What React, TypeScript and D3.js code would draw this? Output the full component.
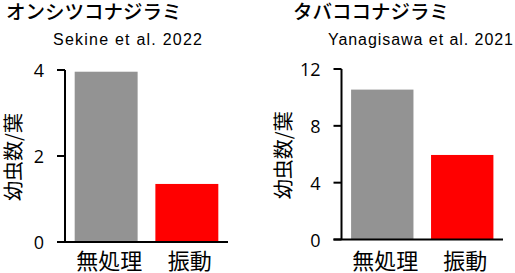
import React from "react";
import * as d3 from "d3";

const categories = ["無処理", "振動"];
const leftValues = [3.96, 1.35];
const rightValues = [10.55, 5.95];
const leftTicks = [0, 2, 4];
const rightTicks = [0, 4, 8, 12];
const barColors = ["#939393", "#ff0000"];
const leftTitle = "オンシツコナジラミ";
const leftSub = "Sekine et al. 2022";
const rightTitle = "タバココナジラミ";
const rightSub = "Yanagisawa et al. 2021";
const yLabel = "幼虫数/葉";

const JP = "'Noto Sans CJK JP', sans-serif";
const LAT = "'Liberation Sans', Arial, sans-serif";
const NUM = "'Open Sans', 'Liberation Sans', sans-serif";

type PanelProps = {
  values: number[];
  ticks: number[];
  max: number;
  axisX: number;
  right: number;
  y0: number;
  yTop: number;
  title: string;
  titleX: number;
  sub: string;
  subX: number;
  subLen: number;
  yLabelX: number;
};

function Panel(p: PanelProps) {
  const x = d3.scaleBand<string>().domain(categories).range([p.axisX, p.right]).paddingInner(0.22).paddingOuter(0.12);
  const y = d3.scaleLinear().domain([0, p.max]).range([p.y0, p.yTop]);
  return (
    <g>
      <text x={p.titleX} y={19} fontFamily={JP} fontSize={19.5} fontWeight={500} fill="#000">{p.title}</text>
      <text x={p.subX} y={45} fontFamily={LAT} fontSize={16} textLength={p.subLen} lengthAdjust="spacing" fill="#000">{p.sub}</text>
      <text transform={`translate(${p.yLabelX},${(p.y0 + p.yTop) / 2 + 1}) rotate(-90)`} fontFamily={JP} fontSize={20} textAnchor="middle" dominantBaseline="central" fill="#000">{yLabel}</text>
      {categories.map((c, i) => (
        <rect key={c} x={x(c)} y={y(p.values[i])} width={x.bandwidth()} height={y(0) - y(p.values[i])} fill={barColors[i]} />
      ))}
      <line x1={p.axisX} x2={p.axisX} y1={y(p.max)} y2={y(0)} stroke="#000" strokeWidth={2} />
      <line x1={p.axisX - 8} x2={p.right} y1={y(0)} y2={y(0)} stroke="#000" strokeWidth={2} />
      {p.ticks.map((t) => (
        <g key={t}>
          <line x1={p.axisX - 8} x2={p.axisX} y1={y(t)} y2={y(t)} stroke="#000" strokeWidth={2} />
          <text x={p.axisX - 21} y={y(t)} fontFamily={NUM} fontSize={18} textAnchor="end" dominantBaseline="central" fill="#000">{t}</text>
        </g>
      ))}
      {categories.map((c) => (
        <text key={c} x={(x(c) as number) + x.bandwidth() / 2 + 3} y={269} fontFamily={JP} fontSize={22} textAnchor="middle" fill="#000">{c}</text>
      ))}
    </g>
  );
}

export default function App() {
  return (
    <svg width={515} height={273} style={{ position: "absolute", left: 0, top: 0, background: "#fff" }}>
      <rect width={515} height={273} fill="#fff" />
      <Panel values={leftValues} ticks={leftTicks} max={4} axisX={65} right={228} y0={242} yTop={70}
        title={leftTitle} titleX={6} sub={leftSub} subX={53} subLen={149} yLabelX={12.5} />
      <Panel values={rightValues} ticks={rightTicks} max={12} axisX={341.5} right={503} y0={239.5} yTop={69}
        title={rightTitle} titleX={293} sub={rightSub} subX={328} subLen={185} yLabelX={282.5} />
    </svg>
  );
}
